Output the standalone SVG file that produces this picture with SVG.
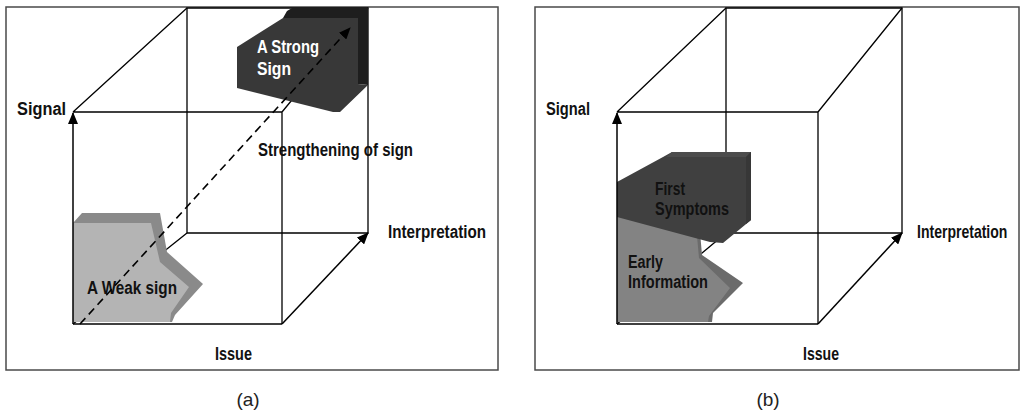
<svg xmlns="http://www.w3.org/2000/svg" width="1022" height="419" viewBox="0 0 1022 419">
  <defs>
    <marker id="head" markerUnits="userSpaceOnUse" markerWidth="12" markerHeight="10" viewBox="0 0 12 10" refX="11" refY="5" orient="auto">
      <path d="M0,0 L12,5 L0,10 Z" fill="#000"/>
    </marker>
    <style>
      .frame { fill: #fff; stroke: #4a4a4a; stroke-width: 1.5; }
      .edge { fill: none; stroke: #000; stroke-width: 1.3; }
      .axis { fill: none; stroke: #000; stroke-width: 1.5; }
      .dash { fill: none; stroke: #000; stroke-width: 1.6; stroke-dasharray: 8 5; }
      .lbl { font-family: "Liberation Sans Narrow", "Liberation Sans", Arial, sans-serif; font-weight: bold; font-size: 18px; fill: #111; }
      .white { fill: #fff; }
      .cap { font-family: "Liberation Sans", Arial, sans-serif; font-size: 19px; fill: #222; text-anchor: middle; }
    </style>
  </defs>

  <rect width="1022" height="419" fill="#fff"/>

  <!-- ===== Panel (a) ===== -->
  <g id="panel-a">
    <rect class="frame" x="6" y="7" width="492" height="363"/>

    <g id="a-cube">
      <path class="edge" d="M187,8 H368 V233 H187 Z"/>
      <path class="edge" d="M73,112 L187,8 M282,112 L368,8 M73,324 L187,233 M73,112 H282 V324"/>
    </g>

    <g id="a-weak-sign">
      <polygon points="73,223 82,213 160,213 167,252 203,284 175,315 172,322 73,322" fill="#8a8a8a"/>
      <polygon points="73,223 151,223 160,262 189,287 171,313 170,322 73,322" fill="#b4b4b4"/>
      <text class="lbl" x="87" y="294" textLength="90" lengthAdjust="spacingAndGlyphs">A Weak sign</text>
    </g>

    <g id="a-strong-sign">
      <polygon points="283,18 287,11 292,8 368,8 368,85 358,84 358,18" fill="#1e1e1e"/>
      <polygon points="237,47 283,18 358,18 358,84 368,85 340,112 333,112 237,88" fill="#383838"/>
      <text class="lbl white" x="257" y="53" textLength="62" lengthAdjust="spacingAndGlyphs">A Strong</text>
      <text class="lbl white" x="257" y="75" textLength="34" lengthAdjust="spacingAndGlyphs">Sign</text>
    </g>

    <g id="a-connectors">
      <path class="axis" d="M73,324 V113" marker-end="url(#head)"/>
      <path class="axis" d="M73,324 H282"/>
      <path class="axis" d="M282,324 L368,233" marker-end="url(#head)"/>
      <path class="dash" d="M80,324 L350,28" marker-end="url(#head)"/>
    </g>

    <g id="a-labels">
      <text class="lbl" x="17" y="115" textLength="49" lengthAdjust="spacingAndGlyphs">Signal</text>
      <text class="lbl" x="258" y="156" textLength="155" lengthAdjust="spacingAndGlyphs">Strengthening of sign</text>
      <text class="lbl" x="388" y="238" textLength="98" lengthAdjust="spacingAndGlyphs">Interpretation</text>
      <text class="lbl" x="215" y="360" textLength="37" lengthAdjust="spacingAndGlyphs">Issue</text>
    </g>
  </g>

  <!-- ===== Panel (b) ===== -->
  <g id="panel-b">
    <rect class="frame" x="535" y="7" width="484" height="363"/>

    <g id="b-cube">
      <path class="edge" d="M726,8 H902 V233 H726 Z"/>
      <path class="edge" d="M617,112 L726,8 M818,112 L902,8 M617,324 L726,233 M617,112 H818 V324"/>
    </g>

    <g id="b-early-information">
      <polygon points="617,215 700,232 702,255 743,283 713,313 712,322 617,322" fill="#6b6b6b"/>
      <polygon points="617,215 697,236 699,258 730,288 709,316 708,322 617,322" fill="#838383"/>
      <text class="lbl" x="628" y="268" textLength="35" lengthAdjust="spacingAndGlyphs">Early</text>
      <text class="lbl" x="628" y="288" textLength="80" lengthAdjust="spacingAndGlyphs">Information</text>
    </g>

    <g id="b-first-symptoms">
      <polygon points="617,182 663,157 672,152 751,152 751,220 723,243 710,242 617,217" fill="#404040"/>
      <polygon points="672,152 751,152 746,157 666,157" fill="#4c4c4c"/>
      <polygon points="746,157 751,152 751,220 746,224" fill="#373737"/>
      <text class="lbl" x="655" y="195" textLength="30" lengthAdjust="spacingAndGlyphs">First</text>
      <text class="lbl" x="655" y="215" textLength="74" lengthAdjust="spacingAndGlyphs">Symptoms</text>
    </g>

    <g id="b-connectors">
      <path class="axis" d="M617,324 V113" marker-end="url(#head)"/>
      <path class="axis" d="M617,324 H818"/>
      <path class="axis" d="M818,324 L902,233" marker-end="url(#head)"/>
    </g>

    <g id="b-labels">
      <text class="lbl" x="546" y="115" textLength="44" lengthAdjust="spacingAndGlyphs">Signal</text>
      <g transform="translate(917,238) scale(0.78,1)">
        <text class="lbl" x="0" y="0">Interpretation</text>
      </g>
      <text class="lbl" x="803" y="360" textLength="36" lengthAdjust="spacingAndGlyphs">Issue</text>
    </g>
  </g>

  <!-- captions -->
  <text class="cap" x="248" y="406">(a)</text>
  <text class="cap" x="768" y="406">(b)</text>
</svg>
